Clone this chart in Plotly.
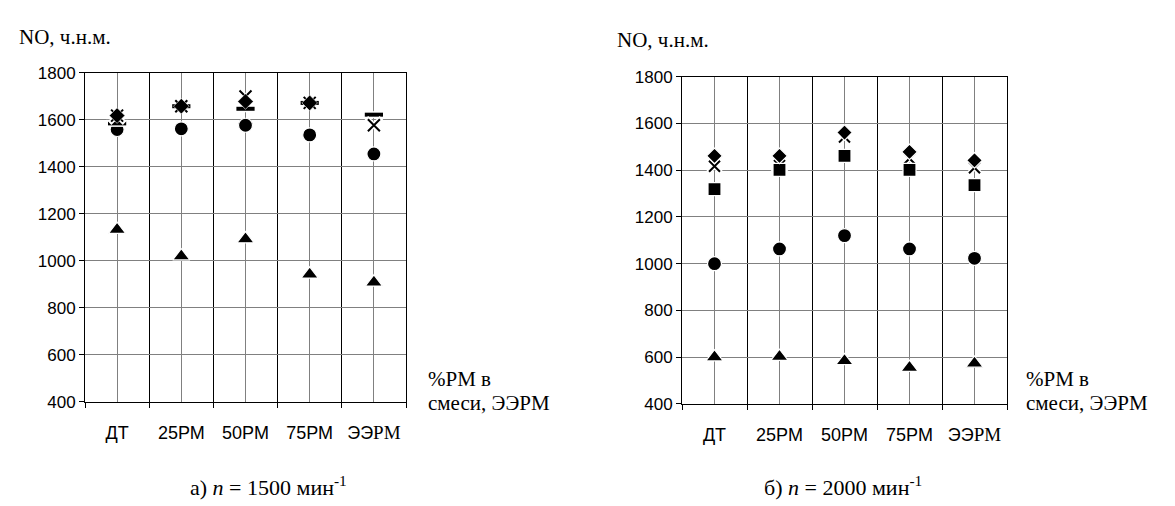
import plotly.graph_objects as go

W, H = 1175, 506

SERIF = "Liberation Serif, Times New Roman, serif"
SANS = "Liberation Sans, Arial, sans-serif"

categories = ["ДТ", "25РМ", "50РМ", "75РМ",
              "ЭЭ<span style='font-family:Liberation Serif;font-size:19px'>РМ</span>"]
x_pos = [0, 1, 2, 3, 4]
y_ticks = [400, 600, 800, 1000, 1200, 1400, 1600, 1800]

# n = 1500 min^-1
l_triangle = [1133, 1020, 1093, 943, 909]
l_circle = [1559, 1562, 1577, 1536, 1455]
l_dash = [1585, 1658, 1647, 1672, 1622]
l_diamond = [1618, 1658, 1678, 1672, None]
l_cross = [1618, 1658, 1699, 1672, 1577]

# n = 2000 min^-1
r_triangle = [600, 602, 584, 555, 573]
r_circle = [1000, 1063, 1120, 1063, 1023]
r_cross = [1417, 1420, 1542, 1450, 1410]
r_square = [1319, 1401, 1461, 1401, 1336]
r_diamond = [1461, 1461, 1561, 1478, 1442]

fig = go.Figure()


def px_x(p):
    return p / W


def px_y(p):
    return 1 - p / H


def filled(y, symbol, size, xa, ya, halo=1.2):
    fig.add_trace(go.Scatter(
        x=x_pos, y=y, mode="markers", xaxis=xa, yaxis=ya, showlegend=False,
        marker=dict(symbol=symbol, size=size, color="black",
                    line=dict(color="white", width=halo)),
        cliponaxis=False))


def stroked(y, symbol, size, width, xa, ya):
    fig.add_trace(go.Scatter(
        x=x_pos, y=y, mode="markers", xaxis=xa, yaxis=ya, showlegend=False,
        marker=dict(symbol=symbol, size=size + 3, color="white",
                    line=dict(color="white", width=width + 3)),
        cliponaxis=False))
    fig.add_trace(go.Scatter(
        x=x_pos, y=y, mode="markers", xaxis=xa, yaxis=ya, showlegend=False,
        marker=dict(symbol=symbol, size=size, color="black",
                    line=dict(color="black", width=width)),
        cliponaxis=False))


# left chart
filled(l_triangle, "triangle-up", 15, "x", "y")
filled(l_circle, "circle", 14, "x", "y")
stroked(l_dash, "line-ew", 13, 4, "x", "y")
stroked(l_cross, "x-thin", 12, 2, "x", "y")
filled(l_diamond, "diamond", 12, "x", "y", halo=0.6)

# right chart
filled(r_triangle, "triangle-up", 15, "x2", "y2")
filled(r_circle, "circle", 14, "x2", "y2")
stroked(r_cross, "x-thin", 11, 2, "x2", "y2")
filled(r_square, "square", 13, "x2", "y2")
filled(r_diamond, "diamond", 12, "x2", "y2")

GRID = "#808080"

xaxis_common = dict(
    range=[-0.5, 4.5], tickmode="array", tickvals=x_pos, ticktext=categories,
    showgrid=True, gridcolor=GRID, gridwidth=1, ticks="",
    showline=True, linecolor="black", linewidth=1, mirror=True,
    zeroline=False, fixedrange=True, ticklabelstandoff=14,
    tickfont=dict(family=SANS, size=18, color="black"),
    minor=dict(tickmode="linear", tick0=-0.5, dtick=1, ticks="outside",
               ticklen=5, tickcolor="black", tickwidth=1,
               showgrid=True, gridcolor="black", gridwidth=1),
)
yaxis_common = dict(
    range=[400, 1800], tickmode="array", tickvals=y_ticks,
    showgrid=True, gridcolor=GRID, gridwidth=1,
    ticks="outside", ticklen=5, tickcolor="black",
    showline=True, linecolor="black", linewidth=1, mirror=True,
    zeroline=False, fixedrange=True, ticklabelstandoff=0,
    tickfont=dict(family=SANS, size=17, color="black"),
)

fig.update_layout(
    width=W, height=H, margin=dict(l=0, r=0, t=0, b=0),
    paper_bgcolor="white", plot_bgcolor="white", showlegend=False,
    xaxis=dict(domain=[px_x(77), px_x(398)], anchor="y", **xaxis_common),
    yaxis=dict(domain=[px_y(400), px_y(58)], anchor="x", **yaxis_common),
    xaxis2=dict(domain=[px_x(674), px_x(999)], anchor="y2", **xaxis_common),
    yaxis2=dict(domain=[px_y(402), px_y(62)], anchor="x2", **yaxis_common),
)

ITAL = "<i>n</i>"
SUP = "<sup>-1</sup>"

annots = [
    dict(text="NO, ч.н.м.", x=px_x(9), y=px_y(6), xanchor="left", yanchor="top", size=21),
    dict(text="NO, ч.н.м.", x=px_x(607), y=px_y(9), xanchor="left", yanchor="top", size=21),
    dict(text="%РМ в", x=px_x(418), y=px_y(362), xanchor="left", yanchor="top", size=21),
    dict(text="смеси, ЭЭРМ", x=px_x(418), y=px_y(386), xanchor="left", yanchor="top", size=21),
    dict(text="%РМ в", x=px_x(1016), y=px_y(362), xanchor="left", yanchor="top", size=21),
    dict(text="смеси, ЭЭРМ", x=px_x(1016), y=px_y(386), xanchor="left", yanchor="top", size=21),
    dict(text="а) " + ITAL + " = 1500 мин" + SUP, x=px_x(260), y=px_y(471), xanchor="center", yanchor="top", size=22),
    dict(text="б) " + ITAL + " = 2000 мин" + SUP, x=px_x(835), y=px_y(471), xanchor="center", yanchor="top", size=22),
]
for a in annots:
    fig.add_annotation(text=a["text"], x=a["x"], y=a["y"], xref="paper", yref="paper",
                       xanchor=a["xanchor"], yanchor=a["yanchor"], showarrow=False,
                       align="left", font=dict(family=SERIF, size=a["size"], color="black"))

fig.write_html("out.html")
